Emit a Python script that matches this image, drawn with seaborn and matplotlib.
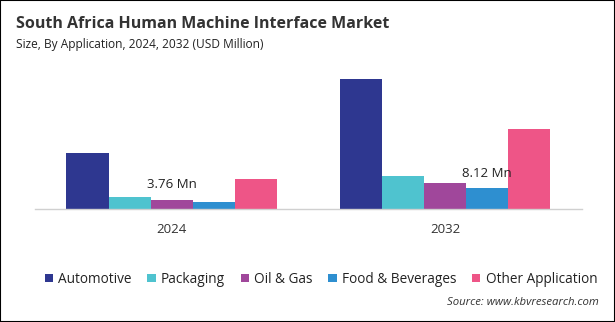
import matplotlib
matplotlib.use("Agg")
import matplotlib.pyplot as plt
import seaborn as sns
import pandas as pd
from matplotlib.patches import Rectangle

years = ["2024", "2032"]
applications = ["Automotive", "Packaging", "Oil & Gas", "Food & Beverages", "Other Application"]
values_2024 = [22.0, 4.7, 3.5, 2.73, 11.7]
values_2032 = [50.5, 12.7, 10.3, 8.12, 31.0]
colors = ["#2E3790", "#4FC3CF", "#A0479B", "#2E8FD0", "#EE5587"]
label_2024 = "3.76 Mn"
label_2032 = "8.12 Mn"

rows = []
for a, v in zip(applications, values_2024):
    rows.append({"Year": years[0], "Application": a, "Value": v})
for a, v in zip(applications, values_2032):
    rows.append({"Year": years[1], "Application": a, "Value": v})
df = pd.DataFrame(rows)

sns.set_theme(style="white")
plt.rcParams["font.family"] = ["Open Sans", "DejaVu Sans"]

fig = plt.figure(figsize=(6.15, 3.22), dpi=100)
ax = fig.add_axes([0.057, 0.351, 0.889, 0.432])

sns.barplot(data=df, x="Year", y="Value", hue="Application", order=years,
            hue_order=applications, palette=colors, width=0.77, saturation=1,
            edgecolor="none", linewidth=0, ax=ax, legend=True)

ax.set_xlim(-0.5, 1.5)
ax.set_ylim(0, 54.2)
ax.set_xlabel("")
ax.set_ylabel("")
ax.set_yticks([])
for s in ["top", "right", "left"]:
    ax.spines[s].set_visible(False)
ax.spines["bottom"].set_color("#D0D0D0")
ax.spines["bottom"].set_linewidth(1)
ax.tick_params(axis="x", length=0, pad=10, labelsize=9.5, labelcolor="#333333")

bw = 0.77 / 5
ax.text(0, values_2024[2] + 3.4, label_2024, ha="center", va="bottom",
        fontsize=9.5, color="#222222")
ax.text(1 + bw, values_2032[3] + 3.0, label_2032, ha="center", va="bottom",
        fontsize=9.5, color="#222222")

handles, labels = ax.get_legend_handles_labels()
ax.get_legend().remove()
fig.legend(handles, labels, loc="center", bbox_to_anchor=(0.522, 0.133), ncol=5,
           frameon=False, fontsize=9.8, handlelength=0.6, handleheight=0.6,
           handletextpad=0.4, columnspacing=1.15, labelcolor="#222222")

fig.text(0.026, 0.925, "South Africa Human Machine Interface Market",
         fontsize=11.5, fontweight="bold", color="#333333", va="center")
fig.text(0.026, 0.862, "Size, By Application, 2024, 2032 (USD Million)",
         fontsize=8.6, color="#222222", va="center")
fig.text(0.973, 0.062, "Source: www.kbvresearch.com", fontsize=8.2,
         style="italic", color="#333333", ha="right", va="center")

fig.patches.append(Rectangle((0, 0), 1, 1, transform=fig.transFigure,
                             fill=False, edgecolor="black", linewidth=1.5))

fig.savefig("out.png", dpi=100)
